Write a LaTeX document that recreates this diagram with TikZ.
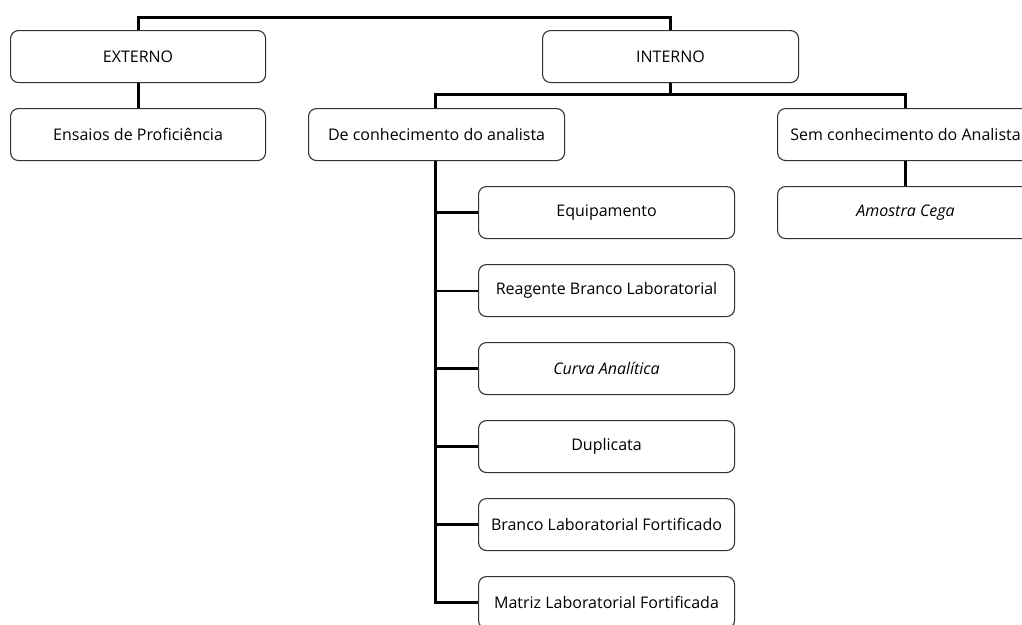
\documentclass[tikz,border=0pt]{standalone}
\usepackage{fontspec}
\setmainfont{Open Sans}
\begin{document}
\begin{tikzpicture}[x=1pt,y=-1pt,
  box/.style={draw=black!80, line width=1.1pt, rounded corners=8pt, minimum width=256pt, minimum height=52pt, inner sep=0pt, font=\fontsize{16}{18}\selectfont, anchor=north west},
  conn/.style={line width=3pt, black},
  thinconn/.style={line width=2pt, black}]
\useasboundingbox (0,0) rectangle (1022,624);
\clip (0,0) rectangle (1022,624);
\node[box, minimum width=255pt] (ext) at (10,30) {EXTERNO};
\node[box] (int) at (542,30) {INTERNO};
\node[box, minimum width=255pt] (ens) at (10,108) {Ensaios de Proficiência};
\node[box] (dec) at (308,108) {De conhecimento do analista};
\node[box] (sem) at (777,108) {Sem conhecimento do Analista};
\node[box] (ami) at (777,186) {\itshape Amostra Cega};
\node[box] (equ) at (478,186) {Equipamento};
\node[box] (rea) at (478,264) {Reagente Branco Laboratorial};
\node[box] (cur) at (478,342) {\itshape Curva Analítica};
\node[box] (dup) at (478,420) {Duplicata};
\node[box] (bra) at (478,498) {Branco Laboratorial Fortificado};
\node[box] (mat) at (478,576) {Matriz Laboratorial Fortificada};
\coordinate (top) at (0,17);
\coordinate (mid) at (0,94);
\coordinate (trunk) at (435,0);
\draw[conn] (ext.north) -- (ext.north |- top) -| (int.north);
\draw[conn] (ext.south) -- (ens.north);
\draw[conn] (int.south) -- (int.south |- mid) -| (trunk |- dec.north);
\draw[conn] (int.south |- mid) -| (sem.north);
\draw[conn] (sem.south) -- (ami.north);
\draw[conn] (trunk |- dec.south) -- (trunk |- mat.west) -- (mat.west);
\draw[conn] (trunk |- equ.west) -- (equ.west);
\draw[thinconn] (trunk |- rea.west) -- (rea.west);
\draw[conn] (trunk |- cur.west) -- (cur.west);
\draw[conn] (trunk |- dup.west) -- (dup.west);
\draw[conn] (trunk |- bra.west) -- (bra.west);
\end{tikzpicture}
\end{document}
